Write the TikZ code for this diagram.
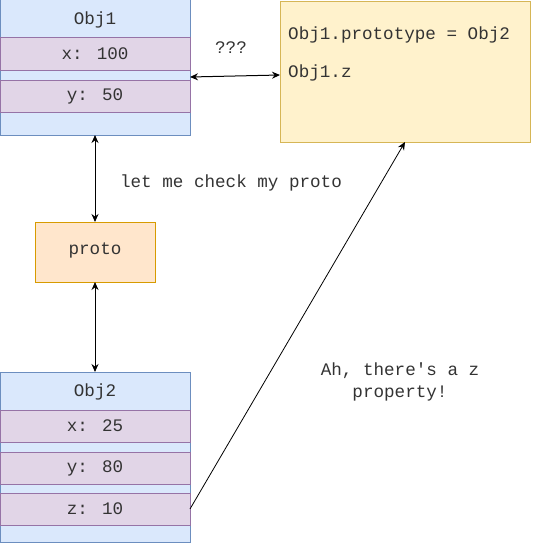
\documentclass[tikz,border=0pt]{standalone}
\usepackage{fontspec}
\setmainfont{Liberation Mono}
\usetikzlibrary{arrows.meta}
\definecolor{bfill}{HTML}{DAE8FC}\definecolor{bline}{HTML}{6C8EBF}
\definecolor{pfill}{HTML}{E1D5E7}\definecolor{pline}{HTML}{9673A6}
\definecolor{ofill}{HTML}{FFE6CC}\definecolor{oline}{HTML}{D79B00}
\definecolor{yfill}{HTML}{FFF2CC}\definecolor{yline}{HTML}{D6B656}
\definecolor{txt}{HTML}{333333}
\tikzset{
  box/.style={draw, line width=1pt, inner sep=0pt, outer sep=0pt, anchor=north west},
  objbox/.style={box, fill=bfill, draw=bline, minimum width=190pt},
  rowbox/.style={draw=pline, fill=pfill, line width=1pt, inner sep=0pt, outer sep=0pt, minimum width=190pt, minimum height=32pt, text=txt},
  lbl/.style={inner sep=0pt, text=txt},
  conn/.style={line width=1pt, {Stealth[length=8pt,width=7pt]}-{Stealth[length=8pt,width=7pt]}},
  oneway/.style={line width=0.8pt, -{Stealth[length=8pt,width=7pt]}},
}
\begin{document}
\begin{tikzpicture}[x=1pt,y=-1pt,font=\fontsize{17.6}{22}\selectfont]
\useasboundingbox (0,0) rectangle (536,543);
% Obj1
\node[objbox, minimum height=135pt] (obj1) at (0,0) {};
\node[lbl] (obj1t) at (95,20) {Obj1};
\node[rowbox] (o1x) at (95,54) {x: 100};
\node[rowbox] (o1y) at (95,96) {y: 50};
% note
\node[box, fill=yfill, draw=yline, minimum width=250pt, minimum height=140pt] (note) at (280,2) {};
\node[lbl, anchor=west] (n1) at (288,35) {Obj1.prototype = Obj2};
\node[lbl, anchor=west] (n2) at (288,73) {Obj1.z};
% proto
\node[box, fill=ofill, draw=oline, minimum width=120pt, minimum height=60pt] (proto) at (35,222) {};
\node[lbl] (protot) at (95,250) {proto};
% Obj2
\node[objbox, minimum height=170pt] (obj2) at (0,372) {};
\node[lbl] (obj2t) at (95,392) {Obj2};
\node[rowbox] (o2x) at (95,426) {x: 25};
\node[rowbox] (o2y) at (95,468) {y: 80};
\node[rowbox] (o2z) at (95,509) {z: 10};
% labels
\node[lbl] (q) at (231,48) {???};
\node[lbl] (chk) at (231,183) {let me check my proto};
\node[lbl, align=center] (ah) at (400,382) {Ah, there\textquotesingle s a z\\property!};
% connectors
\draw[conn] ([yshift=-9.5pt]obj1.east) -- ([yshift=-3pt]note.west);
\draw[conn] (obj1.south) -- (proto.north);
\draw[conn] (proto.south) -- (obj2.north);
\draw[oneway] (o2z.east) -- (note.south);
\end{tikzpicture}
\end{document}
